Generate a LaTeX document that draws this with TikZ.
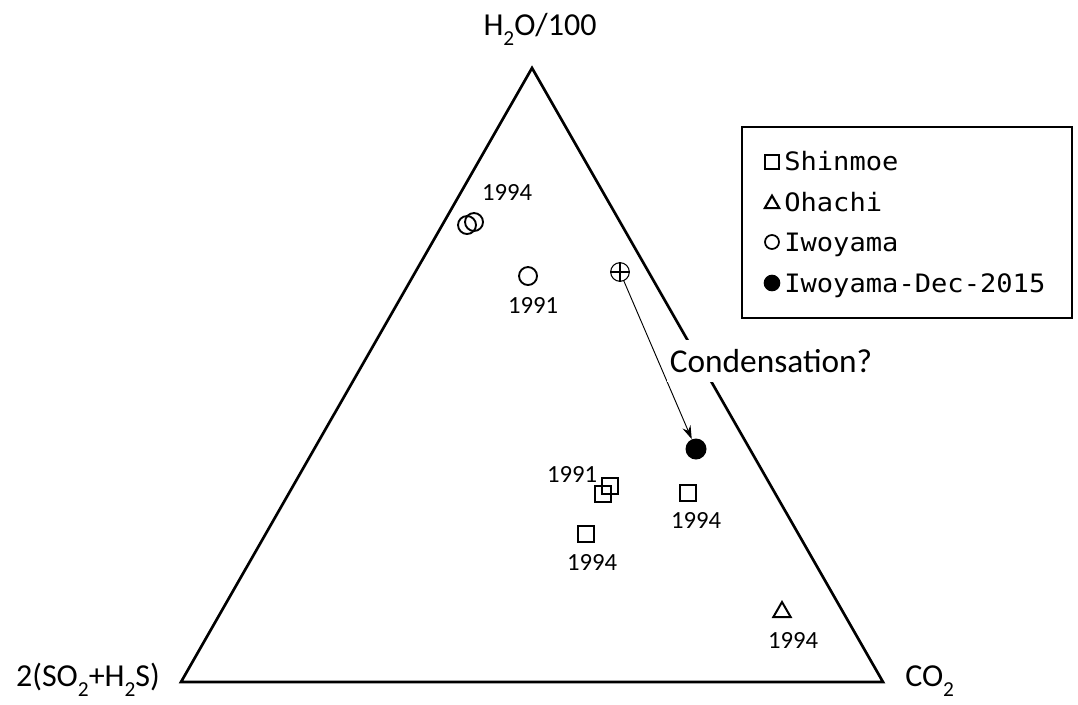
\documentclass[tikz,border=0pt]{standalone}
\usepackage{fontspec}
\setmainfont{Carlito}
\newfontfamily\legfont[FakeStretch=1.07]{DejaVu Sans Mono}
\usetikzlibrary{arrows.meta,shapes.geometric}
\newcommand\sbs[1]{\raisebox{-0.33em}{\fontsize{16}{16}\selectfont #1}}
\begin{document}
\begin{tikzpicture}[x=0.75pt,y=-0.75pt,
  edge/.style={line width=2pt, line join=miter},
  sqm/.style={draw, rectangle, line width=1.6pt, minimum size=12pt, inner sep=0pt},
  cim/.style={draw, circle, line width=1.4pt, minimum size=13.5pt, inner sep=0pt},
  trm/.style={draw, regular polygon, regular polygon sides=3, line width=1.5pt, minimum size=15pt, inner sep=0pt},
  dotm/.style={fill=black, circle, minimum size=15.75pt, inner sep=0pt},
  yr/.style={font=\fontsize{18.5}{18.5}\selectfont, inner sep=0pt},
  lab/.style={font=\fontsize{24}{24}\selectfont, inner sep=0pt},
  legtext/.style={font=\legfont\fontsize{19}{19}\selectfont, inner sep=0pt, anchor=base west}
]
\useasboundingbox (0,0) rectangle (1078,704);
% triangle
\coordinate (A) at (532,68);
\coordinate (B) at (181,682);
\coordinate (C) at (883,682);
\draw[edge] (A) -- (B) -- (C) -- cycle;
% corner labels
\node[lab, anchor=base] (lh2o) at (540,35) {H\sbs{2}O/100};
\node[lab, anchor=base] (lso2) at (88,686) {2(SO\sbs{2}+H\sbs{2}S)};
\node[lab, anchor=base west] (lco2) at (905,686) {CO\sbs{2}};
% Iwoyama circles
\node[cim] (iw1) at (467,225) {};
\node[cim] (iw2) at (474,222) {};
\node[yr] (liw1) at (507,192) {1994};
\node[cim] (iw3) at (528,276) {};
\node[yr] (liw3) at (533,305) {1991};
% Shinmoe squares
\node[sqm] (sh1) at (610,486) {};
\node[sqm] (sh2) at (603,494) {};
\node[yr] (lsh1) at (572,474) {1991};
\node[sqm] (sh3) at (688,493) {};
\node[yr] (lsh3) at (696,520) {1994};
\node[sqm] (sh4) at (586,534) {};
\node[yr] (lsh4) at (592,562) {1994};
% Ohachi
\node[trm] (oh) at (782,612) {};
\node[yr] (loh) at (793,640) {1994};
% plus circle and Dec-2015
\node[circle, draw, line width=0.8pt, minimum size=14pt, inner sep=0pt] (plus) at (620,272) {};
\draw[line width=0.8pt] (plus.north) -- (plus.south) (plus.west) -- (plus.east);
\node[dotm] (dec) at (696,449) {};
\draw[line width=0.7pt, -{Stealth[length=10pt,width=6.5pt]}] (plus) -- (dec);
% Condensation label
\node[fill=white, inner xsep=2pt, inner ysep=7pt, anchor=base, font=\fontsize{25}{25}\selectfont] (cond) at (771,372) {Condensation?};
% legend
\node[draw, line width=1.2pt, rectangle, minimum width=247.5pt, minimum height=143.25pt, inner sep=0pt] (legend) at (907,222.5) {};
\node[sqm, minimum size=10pt, line width=1.5pt] (lg1) at (772,162) {};
\node[legtext] (lt1) at (784,170) {Shinmoe};
\node[trm, minimum size=12.5pt, line width=1.6pt] (lg2) at (772,204) {};
\node[legtext] (lt2) at (784,211) {Ohachi};
\node[cim, minimum size=10.5pt, line width=1.3pt] (lg3) at (772,242) {};
\node[legtext] (lt3) at (784,251) {Iwoyama};
\node[dotm, minimum size=12.5pt] (lg4) at (772,283) {};
\node[legtext] (lt4) at (784,292) {Iwoyama-Dec-2015};
\end{tikzpicture}
\end{document}
